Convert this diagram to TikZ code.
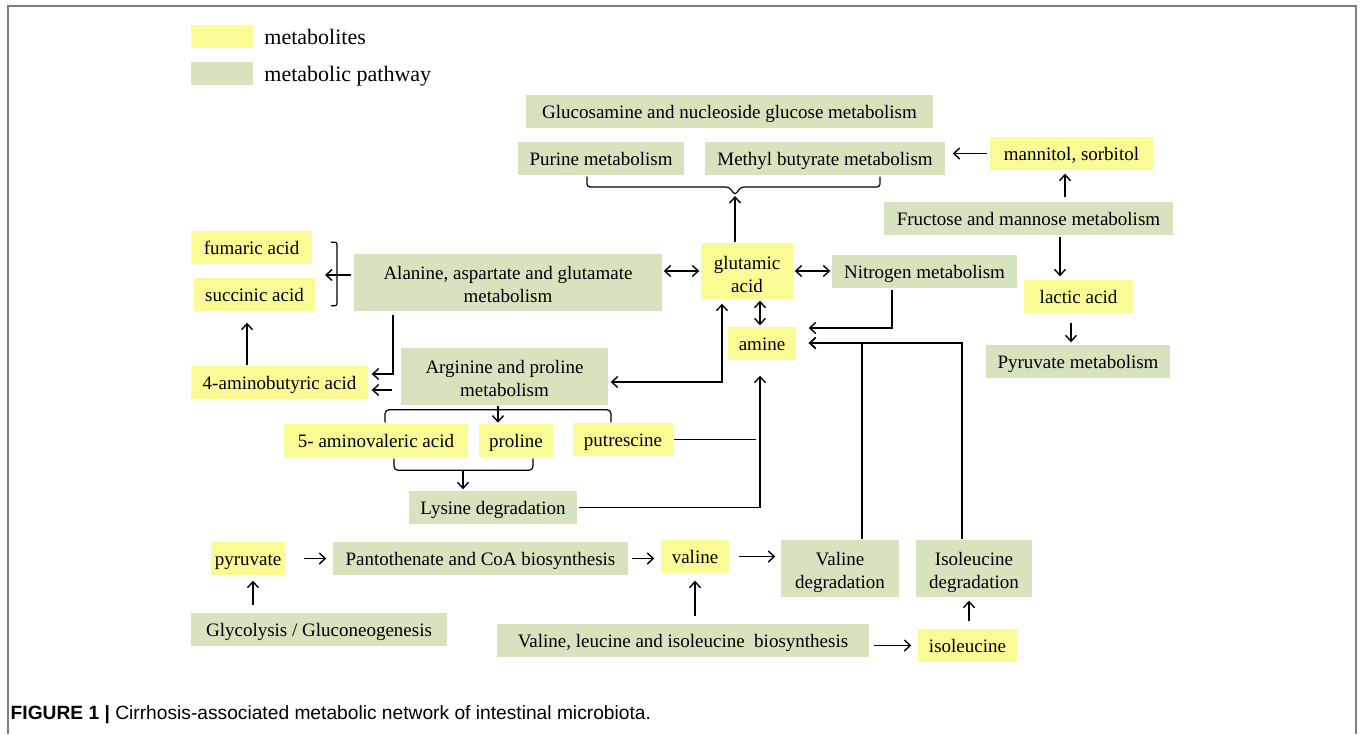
\documentclass[tikz,border=0pt]{standalone}
\usepackage{fontspec}
\setmainfont{Liberation Serif}
\newfontfamily\capfont{Liberation Sans}
\usepackage{xcolor}
\usetikzlibrary{arrows.meta,positioning}
\definecolor{metabfill}{RGB}{251,251,150}
\definecolor{pathfill}{RGB}{215,226,190}
\definecolor{framegray}{RGB}{125,125,125}
\tikzset{>={Straight Barb[length=6pt,width=11pt]}}

\begin{document}
\begin{tikzpicture}[x=1pt, y=-1pt, line width=1.4pt,
    base/.style={inner sep=0pt, font=\fontsize{19}{23}\selectfont},
    metab/.style={base, fill=metabfill, minimum height=33pt, text height=16pt, text depth=3pt},
    pathw/.style={base, fill=pathfill, minimum height=33pt, text height=16pt, text depth=3pt},
    metabtwo/.style={base, fill=metabfill, minimum height=56pt, align=center, text height=43pt, text depth=1pt},
    pathtwo/.style={base, fill=pathfill, minimum height=57pt, align=center, text height=42pt, text depth=2pt},
    legbox/.style={inner sep=0pt, minimum width=62pt, minimum height=23pt},
    legtext/.style={inner sep=0pt, font=\fontsize{22}{26}\selectfont}]
  \useasboundingbox (0,0) rectangle (1360,734);
  \draw[framegray, line width=2pt] (8,734) -- (8,6) -- (1356,6) -- (1356,734);

  % legend
  \node[legbox, fill=metabfill] (legm) at (222,36.5) {};
  \node[legtext, right=10pt of legm] (legmtext) {metabolites};
  \node[legbox, fill=pathfill] (legp) at (222,73.5) {};
  \node[legtext, right=10pt of legp, yshift=-3pt] (legptext) {metabolic pathway};

  % top
  \node[pathw, minimum width=407pt] (gluco) at (729.5,111.5) {Glucosamine and nucleoside glucose metabolism};
  \node[pathw, minimum width=166pt] (purine) at (601,158.5) {Purine metabolism};
  \node[pathw, minimum width=240pt] (methyl) at (825,158.5) {Methyl butyrate metabolism};
  \node[metab, minimum width=163pt] (mannitol) at (1071.5,153.5) {mannitol, sorbitol};
  \node[pathw, minimum width=289pt] (fructose) at (1028.5,218.5) {Fructose and mannose metabolism};
  \node[metab, minimum width=109pt] (lactic) at (1078.5,296.5) {lactic acid};
  \node[pathw, minimum width=184pt] (pyrmet) at (1078,361.5) {Pyruvate metabolism};

  % middle
  \node[metab, minimum width=121pt] (fumaric) at (251.5,247.5) {fumaric acid};
  \node[metab, minimum width=121pt] (succinic) at (254.5,294.5) {succinic acid};
  \node[pathtwo, minimum width=308pt] (alanine) at (508,282.5) {Alanine, aspartate and glutamate\\metabolism};
  \node[metabtwo, minimum width=92pt] (glutamic) at (747,271) {glutamic\\acid};
  \node[pathw, minimum width=185pt] (nitrogen) at (924.5,271.5) {Nitrogen metabolism};
  \node[metab, minimum width=68pt] (amine) at (762,343.5) {amine};
  \node[metab, minimum width=177pt] (gaba) at (279.5,382.5) {4-aminobutyric acid};
  \node[pathtwo, minimum width=207pt] (arginine) at (504.5,376.5) {Arginine and proline\\metabolism};
  \node[metab, minimum width=184pt] (aminoval) at (376,440.5) {5- aminovaleric acid};
  \node[metab, minimum width=74pt] (proline) at (516,440.5) {proline};
  \node[metab, minimum width=100pt] (putrescine) at (623,439.5) {putrescine};
  \node[pathw, minimum width=168pt] (lysine) at (493,507.5) {Lysine degradation};

  % bottom
  \node[metab, minimum width=74pt] (pyruvate) at (248,558.5) {pyruvate};
  \node[pathw, minimum width=295pt] (panto) at (480.5,558.5) {Pantothenate and CoA biosynthesis};
  \node[metab, minimum width=68pt] (valine) at (695,556.5) {valine};
  \node[pathtwo, minimum width=118pt] (valdeg) at (840,568.5) {Valine\\degradation};
  \node[pathtwo, minimum width=116pt] (iledeg) at (974,568.5) {Isoleucine\\degradation};
  \node[pathw, minimum width=256pt] (glyco) at (319,629.5) {Glycolysis / Gluconeogenesis};
  \node[pathw, minimum width=372pt] (vli) at (683,640.5) {Valine, leucine and isoleucine\ \ biosynthesis};
  \node[metab, minimum width=99pt] (isoleucine) at (967.5,645.5) {isoleucine};

  % braces
  \coordinate (topbrace) at (735,195);
  \coordinate (acidbr) at (337,275);
  \draw[line width=1.2pt, rounded corners=3pt] ([xshift=-14,yshift=-1]purine.south) |- ([xshift=-6,yshift=8]topbrace) -- (topbrace) -- ([xshift=6,yshift=8]topbrace) -| ([xshift=55,yshift=-1]methyl.south);
  \draw[line width=1.2pt, rounded corners=2pt] ([xshift=-6,yshift=-12]acidbr |- fumaric.north) -| (acidbr) |- ([xshift=-6,yshift=6]acidbr |- succinic.south);
  \draw[line width=1.2pt, rounded corners=4pt] ([xshift=9,yshift=1]aminoval.north) |- ([yshift=-4]arginine.south) -| ([xshift=-12]putrescine.north);
  \draw[line width=1.2pt, rounded corners=4pt] ([xshift=18,yshift=-1]aminoval.south) |- ([xshift=-30,yshift=20]lysine.north) -| ([xshift=17,yshift=-1]proline.south);

  % connectors
  \draw[->] (glutamic.north -| topbrace) -- ([yshift=-1]topbrace);
  \draw[->] ([xshift=-2]mannitol.west) -- ([xshift=7]methyl.east |- mannitol.west);
  \draw[->] ([xshift=36.5,yshift=4]fructose.north) -- ([xshift=-6.5,yshift=-3]mannitol.south);
  \draw[->] ([xshift=31.5,yshift=-1]fructose.south) -- ([xshift=-18.5,yshift=3]lactic.north);
  \draw[->] ([xshift=-7.5,yshift=-9]lactic.south) -- ([xshift=-7,yshift=2]pyrmet.north);
  \draw[->, shorten <=2pt] (alanine.west |- acidbr) -- ([xshift=-12]acidbr);
  \draw[->] ([xshift=-115,yshift=-3]alanine.south) |- ([xshift=3,yshift=8.5]gaba.east);
  \draw[->] ([xshift=-8,yshift=-13.5]arginine.west) -- ([xshift=3,yshift=-7.5]gaba.east);
  \draw[<->, shorten <=1pt, shorten >=1pt] (alanine.east |- glutamic.west) -- (glutamic.west);
  \draw[<->, shorten <=1pt, shorten >=1pt] (glutamic.east) -- (glutamic.east -| nitrogen.west);
  \draw[<->] ([xshift=13,yshift=-1]glutamic.south) -- ([xshift=-2,yshift=1]amine.north);
  \draw[<->] ([xshift=-25,yshift=-4]glutamic.south) |- ([xshift=2,yshift=-5.5]arginine.east);
  \draw[->] ([xshift=-32.5,yshift=-1]nitrogen.south) |- ([xshift=12,yshift=15.5]amine.east);
  \coordinate (aminejoin) at ([xshift=12,yshift=0.5]amine.east);
  \draw[->] ([xshift=-12]iledeg.north) |- (aminejoin);
  \draw[->] ([xshift=22]valdeg.north) |- (aminejoin);
  \draw (putrescine.east) -- ([xshift=82]putrescine.east);
  \draw[->] ([xshift=1]lysine.east) -| ([xshift=-2,yshift=-15]amine.south);
  \draw[->] ([xshift=-6.5]arginine.south) -- ([xshift=-6.5,yshift=-17]arginine.south);
  \draw[->] ([xshift=-30,yshift=20]lysine.north) -- ([xshift=-30,yshift=1]lysine.north);
  \draw[->] ([xshift=-32.5]gaba.north) -- ([xshift=-7.5,yshift=-11]succinic.south);
  \draw[->] ([xshift=18]pyruvate.east) -- ([xshift=-6]panto.west);
  \draw[->] ([xshift=-66,yshift=7]glyco.north) -- ([xshift=5,yshift=-5]pyruvate.south);
  \draw[->, shorten <=3pt, shorten >=6pt] (panto.east) -- (panto.east -| valine.west);
  \draw[->, shorten <=9pt, shorten >=5pt] (valine.east) -- (valine.east -| valdeg.west);
  \draw[->] ([xshift=12,yshift=7]vli.north) -- ([yshift=-7]valine.south);
  \coordinate (ilein) at ([xshift=-6]isoleucine.west);
  \draw[->, shorten <=4pt] (vli.east |- ilein) -- (ilein);
  \draw[->] ([xshift=1.5,yshift=7]isoleucine.north) -- ([xshift=-5,yshift=-3]iledeg.south);

  % caption
  \node[anchor=base west, inner sep=0pt, font=\capfont\fontsize{19.2}{23}\selectfont] (caption) at (10,719) {\textbf{FIGURE 1 |} Cirrhosis-associated metabolic network of intestinal microbiota.};
\end{tikzpicture}
\end{document}
